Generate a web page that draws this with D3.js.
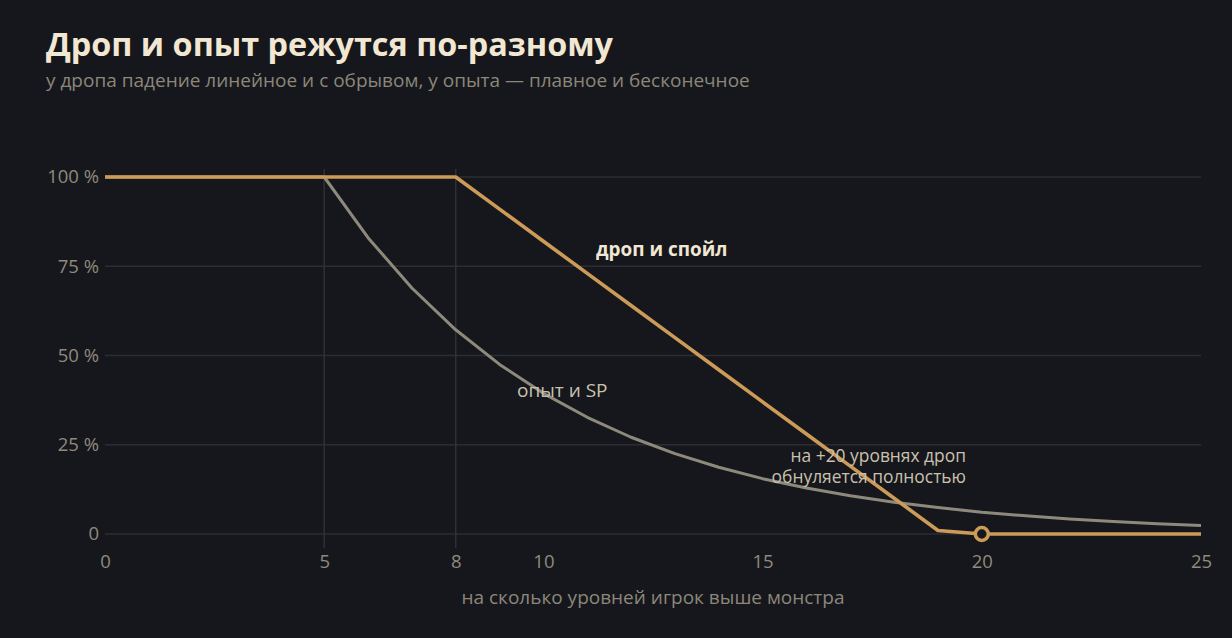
<!DOCTYPE html>
<html><head><meta charset="utf-8">
<script src="https://cdn.jsdelivr.net/npm/d3@7/dist/d3.min.js"></script>
<style>
html,body{margin:0;padding:0;background:#16171c;}
svg{display:block;font-family:"Open Sans","Noto Sans",sans-serif;}
</style></head><body>
<svg id="c" width="1232" height="638"></svg>
<script>
const levels = d3.range(0, 26);
const dropValues = [100,100,100,100,100,100,100,100,100,91,82,73,64,55,46,37,28,19,10,1,0,0,0,0,0,0];
const expValues = [100,100,100,100,100,100,83,68.9,57.2,47.5,39.4,32.7,27.1,22.5,18.7,15.5,12.9,10.7,8.9,7.4,6.1,5.1,4.2,3.5,2.9,2.4];
const xTicks = [0,5,8,10,15,20,25];
const yTicks = [0,25,50,75,100];
const yTickLabels = ["0","25 %","50 %","75 %","100 %"];
const markerLevels = [5,8];

const svg = d3.select("#c");
const x = d3.scaleLinear().domain([0,25]).range([105,1201]);
const y = d3.scaleLinear().domain([0,100]).range([534,177]);

svg.append("text").attr("x",46).attr("y",56).attr("fill","#f1e7d3")
  .attr("font-size",32.4).attr("font-weight",700).text("Дроп и опыт режутся по-разному");
svg.append("text").attr("x",46).attr("y",87).attr("fill","#8c877a")
  .attr("font-size",19).text("у дропа падение линейное и с обрывом, у опыта — плавное и бесконечное");

// grid
svg.append("g").selectAll("line").data(yTicks).join("line")
  .attr("x1",x(0)).attr("x2",x(25)).attr("y1",d=>y(d)).attr("y2",d=>y(d))
  .attr("stroke","#2c2d33").attr("stroke-width",1.5);
svg.append("g").selectAll("line").data(markerLevels).join("line")
  .attr("x1",d=>x(d)).attr("x2",d=>x(d)).attr("y1",169).attr("y2",548)
  .attr("stroke","#2f3036").attr("stroke-width",1.5);

// axes labels
const xAxis = d3.axisBottom(x).tickValues(xTicks).tickSize(0).tickPadding(0);
const gx = svg.append("g").attr("transform","translate(0,568)").call(xAxis);
gx.select(".domain").remove();
gx.selectAll("text").attr("fill","#8f8a7c").attr("font-size",18.5)
  .attr("font-family","Open Sans, Noto Sans, sans-serif").attr("dy",0);

const yAxis = d3.axisLeft(y).tickValues(yTicks).tickFormat((d,i)=>yTickLabels[i]).tickSize(0).tickPadding(0);
const gy = svg.append("g").attr("transform","translate(99,0)").call(yAxis);
gy.select(".domain").remove();
gy.selectAll("text").attr("fill","#8f8a7c").attr("font-size",18.5)
  .attr("font-family","Open Sans, Noto Sans, sans-serif");

svg.append("text").attr("x",653).attr("y",604).attr("text-anchor","middle")
  .attr("fill","#8c877a").attr("font-size",19).text("на сколько уровней игрок выше монстра");

const line = d3.line().x((d,i)=>x(levels[i])).y(d=>y(d));
svg.append("path").datum(expValues).attr("d",line).attr("fill","none")
  .attr("stroke","#8e8a7b").attr("stroke-width",3).attr("stroke-linejoin","round");
svg.append("path").datum(dropValues).attr("d",line).attr("fill","none")
  .attr("stroke","#cc9b58").attr("stroke-width",3.6).attr("stroke-linejoin","round");

svg.append("circle").attr("cx",x(20)).attr("cy",y(0)).attr("r",6.5)
  .attr("fill","#16171c").attr("stroke","#cc9b58").attr("stroke-width",3.5);

svg.append("text").attr("x",596).attr("y",256).attr("fill","#f1e7d3")
  .attr("font-size",18.9).attr("font-weight",700).text("дроп и спойл");
svg.append("text").attr("x",517).attr("y",397).attr("fill","#c9c1ae")
  .attr("font-size",19).text("опыт и SP");
const ann = svg.append("text").attr("text-anchor","end").attr("fill","#c9c1ae").attr("font-size",17.4);
ann.append("tspan").attr("x",966).attr("y",462).text("на +20 уровнях дроп");
ann.append("tspan").attr("x",966).attr("y",482.5).text("обнуляется полностью");
</script>
</body></html>
